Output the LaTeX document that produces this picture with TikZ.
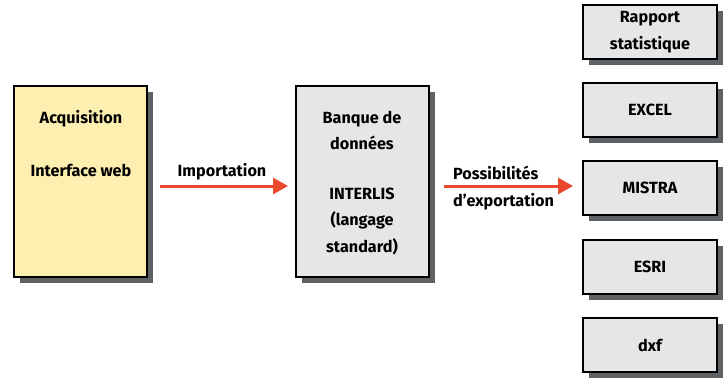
\documentclass[tikz,border=0pt]{standalone}
\usepackage{fontspec}
\setmainfont{Fira Sans}
\usetikzlibrary{arrows.meta,shadows}
\definecolor{boxyellow}{HTML}{FCEFB0}
\definecolor{boxgray}{HTML}{E4E6E7}
\definecolor{shadowgray}{HTML}{5E6265}
\definecolor{flowred}{HTML}{E9482D}
\tikzset{
  panel/.style={draw=black, line width=1.1pt, fill=boxgray,
    drop shadow={shadow xshift=6pt, shadow yshift=-6pt, fill=shadowgray, opacity=1},
    inner sep=0pt, outer sep=0pt},
  label/.style={font=\bfseries\fontsize{16.2}{26.5}\selectfont, align=center, inner sep=0pt},
  flow/.style={draw=flowred, line width=3pt,
    -{Triangle[length=15pt,width=16pt]}},
}
\begin{document}
\begin{tikzpicture}[x=1pt,y=-1pt]
\useasboundingbox (0,0) rectangle (728,378);

% left input box
\node[panel, fill=boxyellow, minimum width=133pt, minimum height=191pt, anchor=north west] (acq) at (14,86) {};
\node[label] (acqt) at (81,119) {Acquisition};
\node[label] (webt) at (81,170) {Interface web};

% central database box
\node[panel, minimum width=133pt, minimum height=191pt, anchor=north west] (db) at (296,86) {};
\node[label] (dbt) at (362,183) {Banque de\\données\\[23pt]INTERLIS\\(langage\\standard)};

% export targets
\node[panel, minimum width=134pt, minimum height=54pt, anchor=north west] (r1) at (583,5) {};
\node[label] at (r1.center) {Rapport\\statistique};
\node[panel, minimum width=134pt, minimum height=54pt, anchor=north west] (r2) at (583,83) {};
\node[label] at (r2.center) {EXCEL};
\node[panel, minimum width=134pt, minimum height=54pt, anchor=north west] (r3) at (583,161) {};
\node[label] at (r3.center) {MISTRA};
\node[panel, minimum width=134pt, minimum height=54pt, anchor=north west] (r4) at (583,240) {};
\node[label] at (r4.center) {ESRI};
\node[panel, minimum width=134pt, minimum height=54pt, anchor=north west] (r5) at (583,318) {};
\node[label] at (r5.center) {dxf};

% flow arrows
\coordinate (i1) at (160,186);
\coordinate (i2) at (288,186);
\coordinate (e1) at (444,186);
\coordinate (e2) at (573,186);
\draw[flow] (i1) -- (i2);
\draw[flow] (e1) -- (e2);
\node[label] (imp) at (222,172) {Importation};
\node[label, anchor=west] (pos) at (453,173) {Possibilités};
\node[label, anchor=west] (exp) at (453,202) {d’exportation};
\end{tikzpicture}
\end{document}
